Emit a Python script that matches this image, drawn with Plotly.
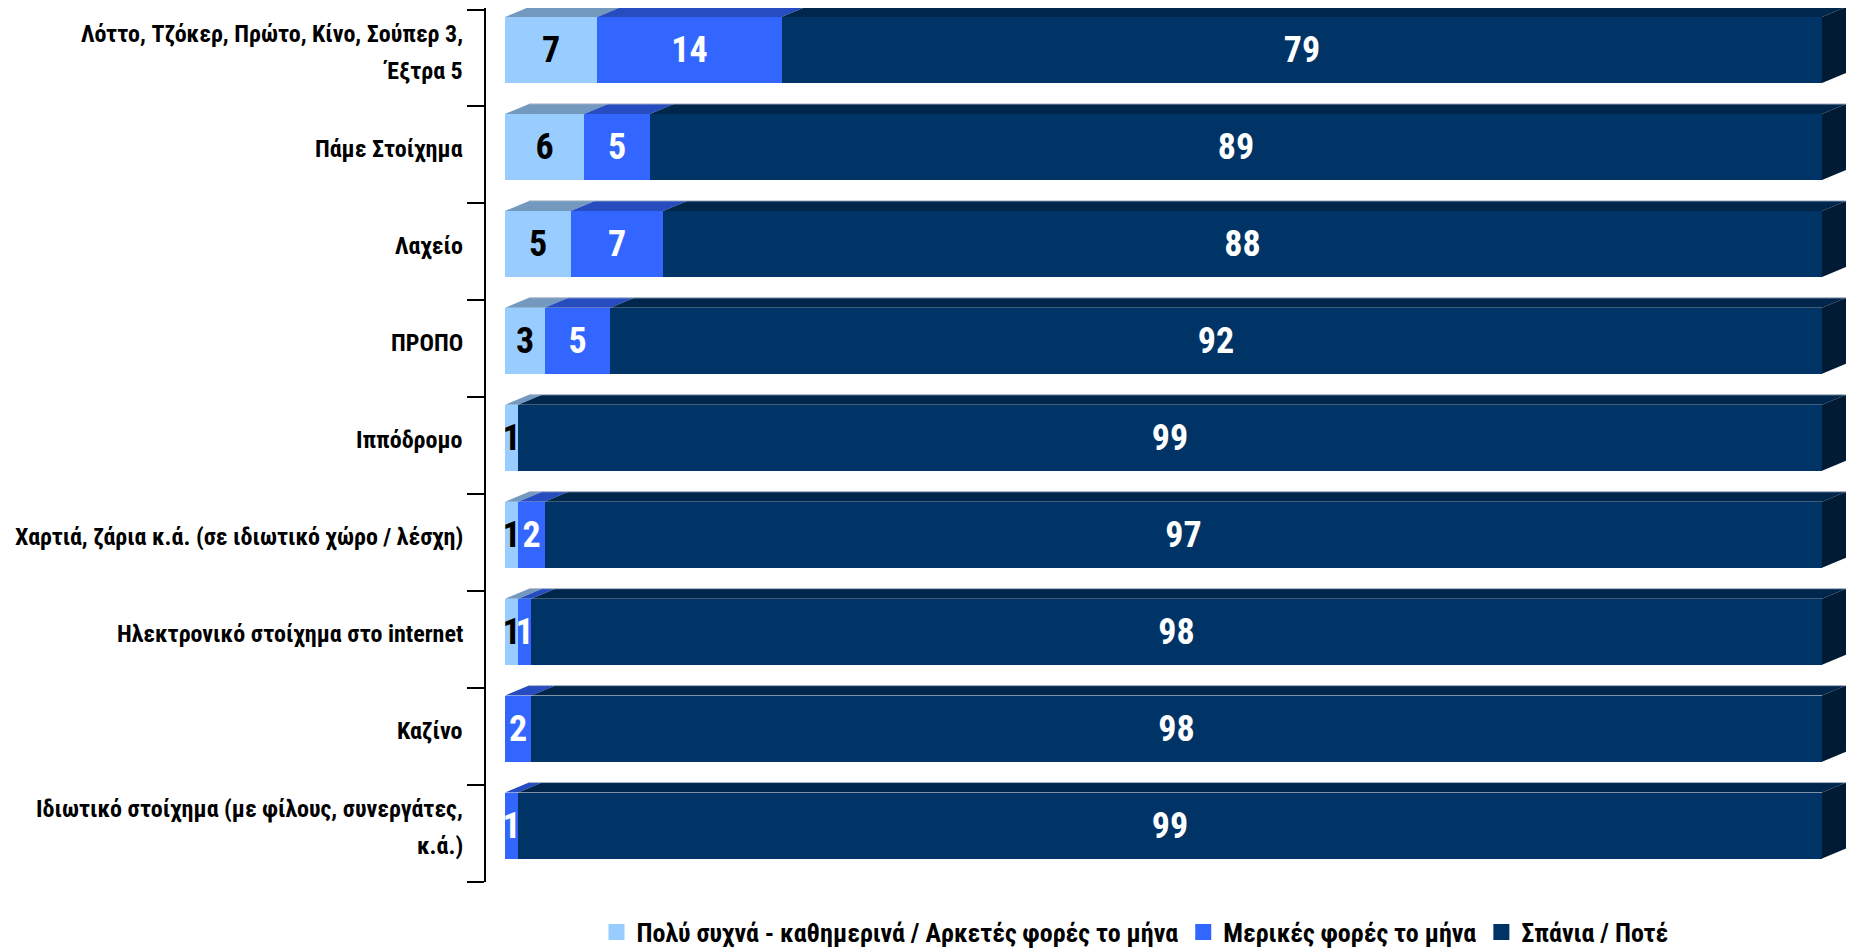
import plotly.graph_objects as go

categories = [
    "Λόττο, Τζόκερ, Πρώτο, Κίνο, Σούπερ 3,<br>Έξτρα 5",
    "Πάμε Στοίχημα",
    "Λαχείο",
    "ΠΡΟΠΟ",
    "Ιππόδρομο",
    "Χαρτιά, ζάρια κ.ά. (σε ιδιωτικό χώρο / λέσχη)",
    "Ηλεκτρονικό στοίχημα στο internet",
    "Καζίνο",
    "Ιδιωτικό στοίχημα (με φίλους, συνεργάτες,<br>κ.ά.)",
]
often = [7, 6, 5, 3, 1, 1, 1, 0, 0]
sometimes = [14, 5, 7, 5, 0, 2, 1, 2, 1]
rarely = [79, 89, 88, 92, 99, 97, 98, 98, 99]
series_names = [
    "Πολύ συχνά - καθημερινά / Αρκετές φορές το μήνα",
    "Μερικές φορές το μήνα",
    "Σπάνια / Ποτέ",
]

front_colors = ["#99CCFF", "#3366FF", "#003366"]
top_colors = ["#7399BF", "#264CBF", "#00264C"]
side_colors = ["#4C6680", "#193380", "#001B33"]
text_colors = ["black", "white", "white"]

FONT = "Liberation Sans Narrow, Arial Narrow, Roboto Condensed, DejaVu Sans Condensed, sans-serif"

# page body has an 8px margin: figure origin sits at (8, 8) of the viewport
OFF = 8
W, H = 1856 - OFF, 952 - OFF
PLOT_L, PLOT_R, PLOT_T, PLOT_B = 486, 1847, 8, 882  # viewport pixels
L, R, T, B = PLOT_L - OFF, (W + OFF) - PLOT_R, PLOT_T - OFF, (H + OFF) - PLOT_B
PX_PER_X = 13.17
PX_PER_Y = 96.94
DX = 24 / PX_PER_X
DY = 10 / PX_PER_Y
BAR_OFF = -0.4226
BAR_W = 0.681
x_range = [-(505 - PLOT_L) / PX_PER_X, 100 + (PLOT_R - 1822) / PX_PER_X]
y_range = [8.5, -0.5 - (9.5 - PLOT_T) / PX_PER_Y]

series = [often, sometimes, rarely]
idx = list(range(len(categories)))

fig = go.Figure()
for s, (vals, name) in enumerate(zip(series, series_names)):
    fig.add_trace(go.Bar(
        y=idx, x=vals, orientation="h", name=name,
        offset=BAR_OFF, width=BAR_W,
        marker=dict(color=front_colors[s], line=dict(width=0)),
        text=[str(v) if v > 0 else "" for v in vals],
        textposition="inside", insidetextanchor="middle", constraintext="none",
        textfont=dict(family=FONT, size=36, color=text_colors[s], weight="bold"),
        showlegend=False, cliponaxis=False,
    ))
    fig.add_trace(go.Scatter(
        x=[None], y=[None], mode="markers", name=name,
        marker=dict(symbol="square", size=20, color=front_colors[s]),
        showlegend=True,
    ))

fig.update_layout(barmode="stack")

shapes = []
for i in idx:
    cum = 0
    yt = i + BAR_OFF
    yb = yt + BAR_W
    last_s = max(s for s in range(3) if series[s][i] > 0)
    for s in range(3):
        v = series[s][i]
        if v <= 0:
            continue
        x0, x1 = cum, cum + v
        cum = x1
        shapes.append(dict(
            type="path", xref="x", yref="y", layer="above",
            path=f"M{x0},{yt} L{x1},{yt} L{x1+DX},{yt-DY} L{x0+DX},{yt-DY} Z",
            fillcolor=top_colors[s], line=dict(width=0),
        ))
        if s == last_s:
            shapes.append(dict(
                type="path", xref="x", yref="y", layer="above",
                path=f"M{x1},{yt} L{x1+DX},{yt-DY} L{x1+DX},{yb-DY} L{x1},{yb} Z",
                fillcolor=side_colors[s], line=dict(width=0),
            ))
    shapes.append(dict(
        type="line", xref="x", yref="y", layer="above",
        x0=DX, x1=cum + DX, y0=yt - DY, y1=yt - DY,
        line=dict(color="#A8B4C8", width=1),
    ))

annotations = []
for i, cat in enumerate(categories):
    lines = cat.split("<br>")
    n = len(lines)
    for k, line in enumerate(lines):
        annotations.append(dict(
            xref="paper", yref="y", x=0, y=i + BAR_OFF + BAR_W / 2,
            xanchor="right", yanchor="middle", xshift=-21,
            yshift=((n - 1) / 2 - k) * 37 - 2,
            text=line, showarrow=False, align="right",
            font=dict(family=FONT, size=24, color="black", weight="bold"),
        ))

plot_h = PLOT_B - PLOT_T
fig.update_layout(
    template="none",
    shapes=shapes, annotations=annotations,
    width=W, height=H,
    margin=dict(l=L, r=R, t=T, b=B, pad=0, autoexpand=False),
    paper_bgcolor="white", plot_bgcolor="white",
    xaxis=dict(range=x_range, visible=False, showgrid=False, zeroline=False, automargin=False),
    yaxis=dict(
        range=y_range, tickmode="array", automargin=False,
        tickvals=[k - 0.5 for k in range(len(categories) + 1)],
        ticktext=[""] * (len(categories) + 1),
        ticks="outside", ticklen=17, tickwidth=2, tickcolor="black",
        showline=True, linecolor="black", linewidth=2,
        showgrid=False, zeroline=False,
    ),
    legend=dict(
        orientation="h", x=(1135 - PLOT_L) / (PLOT_R - PLOT_L), xanchor="center",
        y=-(932 - PLOT_B) / plot_h, yanchor="middle",
        font=dict(family=FONT, size=26, color="black", weight="bold"),
        itemsizing="trace", traceorder="normal", bgcolor="rgba(0,0,0,0)",
        itemwidth=30, tracegroupgap=0,
    ),
    bargap=0,
)

fig.write_html("out.html")
